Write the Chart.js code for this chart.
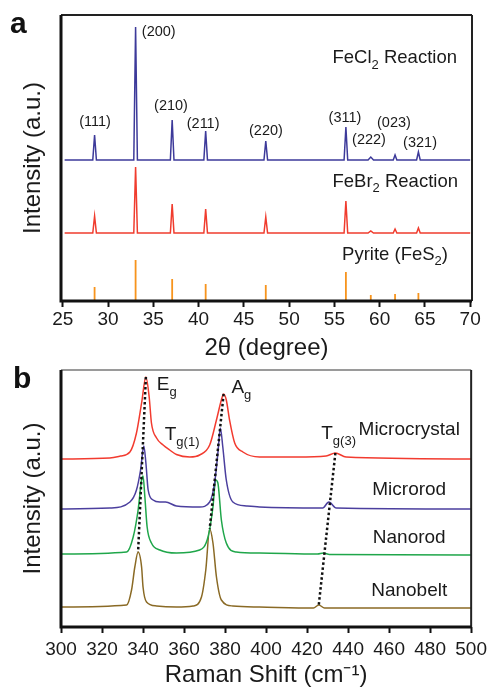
<!DOCTYPE html>
<html>
<head>
<meta charset="utf-8">
<script src="https://cdn.jsdelivr.net/npm/chart.js@4.4.1/dist/chart.umd.min.js"></script>
<style>
  html, body { margin: 0; padding: 0; background: #fff; }
  #wrap { position: relative; width: 492px; height: 690px; overflow: hidden; }
  canvas { position: absolute; left: 0; }
  #xrd { top: 0; }
  #raman { top: 360px; }
</style>
</head>
<body>
<div id="wrap">
  <canvas id="xrd" width="492" height="365"></canvas>
  <canvas id="raman" width="492" height="330"></canvas>
</div>
<script>
/* ---- panel a : XRD patterns ---- */
const TWO_THETA_TICKS = [25, 30, 35, 40, 45, 50, 55, 60, 65, 70];
const TWO_THETA = [25.2, 28.31, 28.51, 28.71, 32.84, 33.04, 33.24, 36.88, 37.08, 37.28,
  40.58, 40.78, 40.98, 47.22, 47.42, 47.62, 56.07, 56.27, 56.47, 58.72, 59.02, 59.32,
  61.5, 61.7, 61.9, 64.08, 64.28, 64.48, 70.0];
const FECL2 = [141, 141, 166, 141, 141, 274, 141, 141, 181, 141, 141, 170, 141, 141, 160,
  141, 141, 174, 141, 141, 144, 141, 141, 146, 141, 141, 149, 141, 141];
const FEBR2 = [68, 68, 85, 68, 68, 134, 68, 68, 97, 68, 68, 92, 68, 68, 84,
  68, 68, 100, 68, 68, 70, 68, 68, 72, 68, 68, 73, 68, 68];
const PYRITE_2THETA = [28.51, 33.04, 37.08, 40.78, 47.42, 56.27, 59.02, 61.7, 64.28];
const PYRITE_INT = [14, 41, 22, 17, 16, 29, 6, 7, 8];
const HKL = ["(111)", "(200)", "(210)", "(211)", "(220)", "(311)", "(222)", "(023)", "(321)"];

/* ---- panel b : Raman spectra ---- */
const RAMAN_TICKS = [300, 320, 340, 360, 380, 400, 420, 440, 460, 480, 500];
const MICROCRYSTAL_SHIFT = [300, 323.8, 329, 333.6, 336.8, 339.3, 341.4, 343.0, 344.1, 346.6, 349.8,
  353.0, 356.3, 362.8, 367.6, 372.5, 375.8, 378.2, 379.3, 380.6, 382.2, 384.7, 388.7, 396.8,
  415, 429.3, 433.8, 439.0, 500];
const MICROCRYSTAL_INT = [168, 169, 171, 175, 194, 224, 250, 230, 204, 189, 182,
  177, 172.5, 170, 172, 182, 207, 227, 233, 227, 207, 184, 175, 170,
  170, 171, 174, 170, 168];
const MICROROD_SHIFT = [300, 323.8, 333.6, 336.8, 338.8, 340.4, 341.4, 342.5, 344.9, 348.2, 351.0,
  356.3, 367.6, 372.5, 374.9, 376.5, 377.7, 378.9, 380.6, 383.8, 390.4, 396.8, 427.6, 430.6,
  434.2, 500];
const MICROROD_INT = [118, 119, 125, 137, 157, 181, 164, 137, 127, 125, 125,
  121, 120, 125, 144, 174, 199, 180, 147, 125, 121, 120, 119, 125,
  119, 118];
const NANOROD_SHIFT = [300, 332.0, 335.2, 337.6, 339.3, 340.0, 340.9, 342.0, 344.1, 348.2, 356.3,
  367.6, 371.7, 374.1, 375.4, 376.5, 378.2, 380.6, 385.5, 396.8, 425.1, 428.0, 430.9, 500];
const NANOROD_INT = [73, 75, 90, 117, 147, 151, 130, 100, 84, 77, 74,
  77, 90, 120, 147, 144, 107, 84, 75, 74, 73, 74, 72.5, 72];
const NANOBELT_SHIFT = [300, 332.0, 334.4, 336.0, 337.6, 339.3, 340.0, 341.7, 346.6, 356.3, 364.4,
  368.5, 370.6, 372.5, 374.1, 375.8, 378.2, 383.8, 396.8, 423.1, 425.7, 428.5, 500];
const NANOBELT_INT = [20, 22, 37, 60, 75, 60, 40, 25, 21, 20, 21,
  30, 57, 98, 84, 50, 27, 21, 20, 19, 22, 19, 19];
// peak shift guides (top sample -> bottom sample)
const EG_SHIFT = [341.4, 337.6], EG_INT = [250, 75];
const AG_SHIFT = [379.3, 372.5], AG_INT = [233, 98];
const TG3_SHIFT = [433.8, 425.7], TG3_INT = [174, 22];

/* ---- layout of the text marks (data coordinates) ---- */
const HKL_POS = [[28.56, 179], [35.6, 269], [36.95, 195], [40.5, 177], [47.44, 170],
  [56.17, 183], [58.82, 161], [61.58, 178], [64.46, 158]];

const FONT = '"Liberation Sans", Arial, sans-serif';
Chart.defaults.font.family = FONT;
Chart.defaults.color = "#1a1a1a";

const pts = (xs, ys) => xs.map((x, i) => ({ x, y: ys[i] }));

function sticks(xs, ys) {
  const out = [];
  xs.forEach((x, i) => out.push({ x, y: 0 }, { x, y: ys[i] }, { x, y: null }));
  return out;
}

// text with _{sub} markup, drawn at data coords
const marks = {
  id: "marks",
  afterDatasetsDraw(chart, args, opts) {
    const { ctx, scales } = chart;
    ctx.save();
    ctx.fillStyle = "#1a1a1a";
    ctx.textBaseline = "middle";
    ctx.textAlign = "left";
    opts.items.forEach((m) => {
      const subSize = Math.round(m.size * 0.68);
      const parts = m.text.split(/(_\{[^}]*\})/).filter(Boolean).map((p) =>
        p.startsWith("_{") ? { t: p.slice(2, -1), sub: true } : { t: p, sub: false });
      let total = 0;
      parts.forEach((p) => {
        ctx.font = `${p.sub ? subSize : m.size}px ${FONT}`;
        p.w = ctx.measureText(p.t).width;
        total += p.w;
      });
      let x = scales.x.getPixelForValue(m.x);
      const y = scales.y.getPixelForValue(m.y);
      if (m.align === "right") x -= total;
      else if (m.align === "center") x -= total / 2;
      parts.forEach((p) => {
        ctx.font = `${p.sub ? subSize : m.size}px ${FONT}`;
        ctx.fillText(p.t, x, p.sub ? y + m.size * 0.4 : y);
        x += p.w;
      });
    });
    ctx.restore();
  },
};

const frame = {
  id: "frame",
  afterDraw(chart, args, opts) {
    const { ctx, chartArea: a } = chart;
    ctx.save();
    ctx.lineWidth = 2;
    ctx.strokeStyle = opts.topColor;
    ctx.beginPath(); ctx.moveTo(a.left, a.top); ctx.lineTo(a.right, a.top); ctx.stroke();
    ctx.strokeStyle = "#222";
    ctx.beginPath(); ctx.moveTo(a.right, a.top); ctx.lineTo(a.right, a.bottom); ctx.stroke();
    ctx.strokeStyle = "#111";
    ctx.lineWidth = 3;
    ctx.beginPath(); ctx.moveTo(a.left, a.top); ctx.lineTo(a.left, a.bottom); ctx.lineTo(a.right, a.bottom); ctx.stroke();
    ctx.font = `bold 30px ${FONT}`;
    ctx.fillStyle = "#111";
    ctx.textBaseline = "alphabetic";
    ctx.fillText(opts.letter, opts.lx, opts.ly);
    ctx.restore();
  },
};

function axes(cfg) {
  return {
    x: {
      type: "linear", min: cfg.xmin, max: cfg.xmax,
      afterBuildTicks: (s) => { s.ticks = cfg.ticks.map((v) => ({ value: v })); },
      afterFit: (s) => { s.height = cfg.xh; },
      ticks: { font: { size: 19 }, padding: cfg.tickPad, autoSkip: false, maxRotation: 0, color: "#1a1a1a" },
      grid: { drawOnChartArea: false, drawTicks: true, tickLength: 6, tickWidth: 2, tickColor: "#111" },
      border: { display: false },
      title: { display: true, text: cfg.xtitle, font: { size: 24 }, color: "#1a1a1a", padding: { top: 0, bottom: cfg.titlePad } },
    },
    y: {
      min: 0, max: cfg.ymax,
      afterFit: (s) => { s.width = 61; },
      ticks: { display: false },
      grid: { display: false },
      border: { display: false },
      title: { display: true, text: "Intensity (a.u.)", font: { size: 24 }, color: "#1a1a1a", padding: { top: 19, bottom: 0 } },
    },
  };
}

const common = {
  responsive: false,
  animation: false,
  devicePixelRatio: 1,
  elements: { point: { radius: 0 }, line: { tension: 0 } },
};

new Chart(document.getElementById("xrd"), {
  type: "line",
  data: {
    datasets: [
      { data: pts(TWO_THETA, FECL2), borderColor: "#3d3a9a", borderWidth: 1.5 },
      { data: pts(TWO_THETA, FEBR2), borderColor: "#f03c2e", borderWidth: 1.5 },
      { data: sticks(PYRITE_2THETA, PYRITE_INT), borderColor: "#f7941d", borderWidth: 1.8, spanGaps: false },
    ],
  },
  options: {
    ...common,
    layout: { padding: { top: 15, right: 20, bottom: 0, left: 0 } },
    plugins: {
      legend: { display: false },
      tooltip: { enabled: false },
      marks: {
        items: [
          ...HKL.map((t, i) => ({ text: t, x: HKL_POS[i][0], y: HKL_POS[i][1], size: 14.5, align: "center" })),
          { text: "FeCl_{2} Reaction", x: 68.54, y: 243, size: 18.5, align: "right" },
          { text: "FeBr_{2} Reaction", x: 68.65, y: 119.5, size: 18.5, align: "right" },
          { text: "Pyrite (FeS_{2})", x: 67.55, y: 46.5, size: 18.5, align: "right" },
        ],
      },
      frame: { letter: "a", lx: 10, ly: 33, topColor: "#222" },
    },
    scales: axes({ xmin: 24.8, xmax: 70.2, ticks: TWO_THETA_TICKS, xh: 64, tickPad: 1, titlePad: 2.6,
      xtitle: "2θ (degree)", ymax: 286 }),
  },
  plugins: [marks, frame],
});

const guide = { borderColor: "#111", borderWidth: 2.5, borderDash: [2.5, 2.5] };

new Chart(document.getElementById("raman"), {
  type: "line",
  data: {
    datasets: [
      { data: pts(EG_SHIFT, EG_INT), ...guide },
      { data: pts(AG_SHIFT, AG_INT), ...guide },
      { data: pts(TG3_SHIFT, TG3_INT), ...guide },
      { data: pts(MICROCRYSTAL_SHIFT, MICROCRYSTAL_INT), borderColor: "#f23b2f", borderWidth: 1.5, cubicInterpolationMode: "monotone" },
      { data: pts(MICROROD_SHIFT, MICROROD_INT), borderColor: "#4b3f9e", borderWidth: 1.5, cubicInterpolationMode: "monotone" },
      { data: pts(NANOROD_SHIFT, NANOROD_INT), borderColor: "#1fa64a", borderWidth: 1.5, cubicInterpolationMode: "monotone" },
      { data: pts(NANOBELT_SHIFT, NANOBELT_INT), borderColor: "#8a6a25", borderWidth: 1.5, cubicInterpolationMode: "monotone" },
    ],
  },
  options: {
    ...common,
    layout: { padding: { top: 10, right: 20, bottom: 0, left: 0 } },
    plugins: {
      legend: { display: false },
      tooltip: { enabled: false },
      marks: {
        items: [
          { text: "E_{g}", x: 346.7, y: 242, size: 19, align: "left" },
          { text: "A_{g}", x: 383.1, y: 239, size: 19, align: "left" },
          { text: "T_{g(1)}", x: 350.6, y: 192, size: 19, align: "left" },
          { text: "T_{g(3)}", x: 426.9, y: 193, size: 19, align: "left" },
          { text: "Microcrystal", x: 469.8, y: 197, size: 19, align: "center" },
          { text: "Microrod", x: 469.8, y: 137, size: 19, align: "center" },
          { text: "Nanorod", x: 469.8, y: 89.5, size: 19, align: "center" },
          { text: "Nanobelt", x: 469.8, y: 36, size: 19, align: "center" },
        ],
      },
      frame: { letter: "b", lx: 13, ly: 28, topColor: "#9a9a9a" },
    },
    scales: axes({ xmin: 300, xmax: 500, ticks: RAMAN_TICKS, xh: 63, tickPad: 5, titlePad: 0,
      xtitle: "Raman Shift (cm⁻¹)", ymax: 257 }),
  },
  plugins: [marks, frame],
});
</script>
</body>
</html>
